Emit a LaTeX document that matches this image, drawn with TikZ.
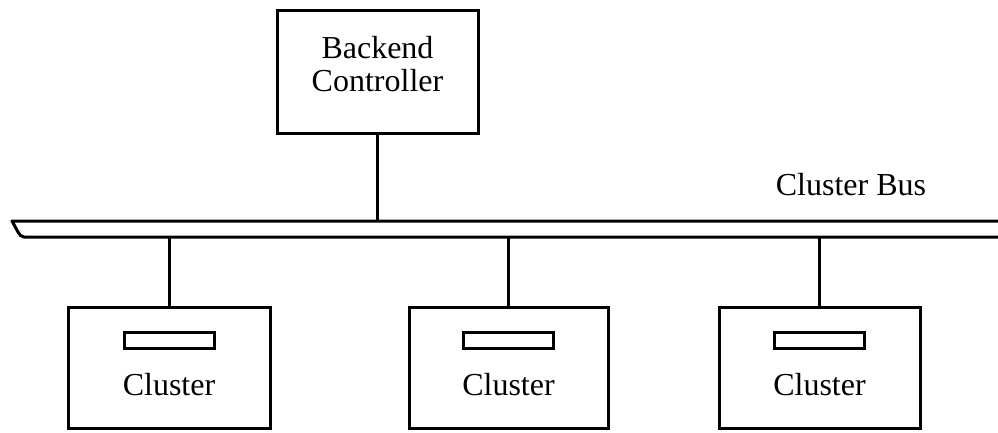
\documentclass[tikz,border=0pt]{standalone}
\usepackage{fontspec}
\setmainfont{Liberation Serif}
\begin{document}
\begin{tikzpicture}[x=1pt,y=-1pt,
  line width=3pt,
  box/.style={draw,line width=3pt,inner sep=0pt},
  slot/.style={draw,line width=3pt,inner sep=0pt,minimum width=90pt,minimum height=16pt},
  lbl/.style={font=\fontsize{32}{33}\selectfont,inner sep=0pt,align=center}]
\useasboundingbox (0,0) rectangle (998,432);
% backend controller
\node[box,minimum width=201pt,minimum height=123pt] (bk) at (377.5,71.5) {};
\node[lbl] (bktxt) at (377.5,64) {Backend\\Controller};
% bus
\coordinate (busL) at (12,221);
\coordinate (busR) at (998,221);
\coordinate (busBL) at (24,237);
\coordinate (busBR) at (998,237);
\draw[line join=round] (busR) -- (busL) -- (18,232) to[out=-60,in=180] (busBL) -- (busBR);
\node[lbl,anchor=base] (buslbl) at (851,195) {Cluster Bus};
\draw (bk.south) -- (bk.south |- busL);
% clusters
\foreach \n/\cx/\w in {1/169/202,2/508.5/199,3/819.5/201}{
  \node[box,minimum width=\w pt,minimum height=121pt] (c\n) at (\cx,367.5) {};
  \node[slot] (s\n) at (\cx,340.5) {};
  \node[lbl] (t\n) at (\cx,385) {Cluster};
  \draw (c\n.north) -- (c\n.north |- busBL);
}
\end{tikzpicture}
\end{document}
